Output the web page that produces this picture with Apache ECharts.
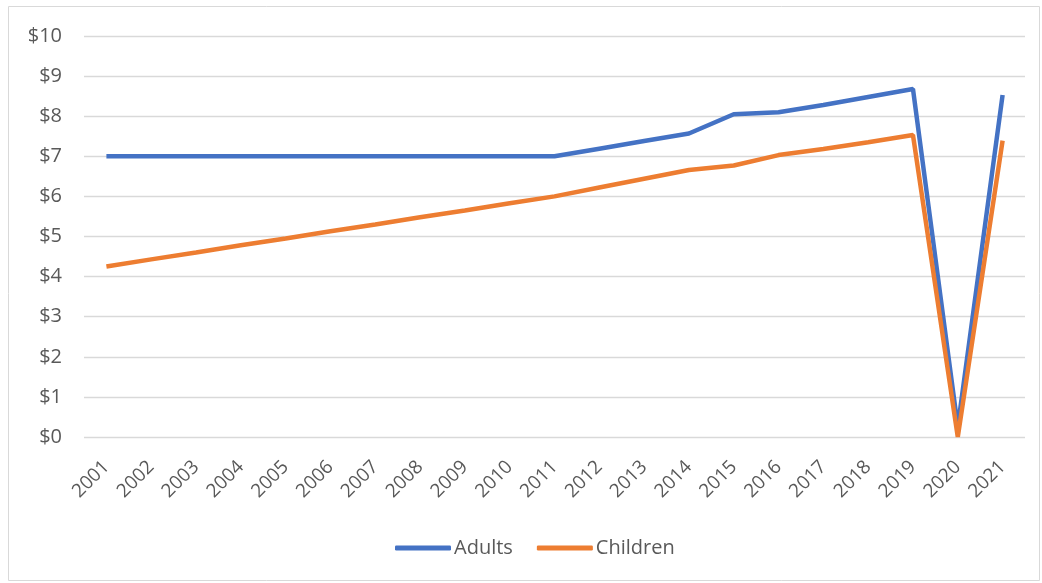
<!DOCTYPE html>
<html><head><meta charset="utf-8">
<script src="https://cdn.jsdelivr.net/npm/echarts@6/dist/echarts.min.js"></script>
<style>html,body{margin:0;padding:0;background:#fff}#c{width:1042px;height:583px}</style>
</head><body><div id="c"></div>
<script>
var years = ['2001','2002','2003','2004','2005','2006','2007','2008','2009','2010','2011','2012','2013','2014','2015','2016','2017','2018','2019','2020','2021'];
var adults = [7,7,7,7,7,7,7,7,7,7,7,7.19,7.38,7.57,8.05,8.10,8.28,8.48,8.68,0.25,8.53];
var children = [4.25,4.43,4.6,4.78,4.95,5.13,5.3,5.48,5.65,5.83,6.0,6.22,6.44,6.66,6.77,7.03,7.18,7.35,7.53,0,7.39];
var yTicks = {min:0, max:10, interval:1, prefix:'$'};

var chart = echarts.init(document.getElementById('c'));
var font = 'Open Sans, Noto Sans, sans-serif';
chart.setOption({
  animation:false,
  graphic:[{type:'rect', shape:{x:8.5,y:6.5,width:1031,height:574}, style:{fill:'none', stroke:'#d9d9d9', lineWidth:1}, z:-1}],
  grid:{left:84, right:17, top:36, bottom:146},
  legend:{
    bottom:20, left:390, itemGap:24, itemWidth:56, itemHeight:5, icon:'roundRect',
    textStyle:{fontFamily:font, fontSize:20, color:'#595959', padding:[0,0,0,-2]},
    data:['Adults','Children']
  },
  xAxis:{
    type:'category', data:years, boundaryGap:true,
    axisLine:{show:false}, axisTick:{show:false},
    axisLabel:{rotate:45, fontFamily:font, fontSize:19, color:'#595959', margin:27, interval:0}
  },
  yAxis:{
    type:'value', min:yTicks.min, max:yTicks.max, interval:yTicks.interval,
    axisLabel:{formatter:function(v){return yTicks.prefix+v;}, fontFamily:font, fontSize:20, color:'#595959', margin:22},
    splitLine:{lineStyle:{color:'#d9d9d9', width:1.3}}
  },
  series:[
    {name:'Adults', type:'line', data:adults, symbol:'none', lineStyle:{color:'#4472C4', width:4.5}, itemStyle:{color:'#4472C4'}},
    {name:'Children', type:'line', data:children, symbol:'none', lineStyle:{color:'#ED7D31', width:4.5}, itemStyle:{color:'#ED7D31'}}
  ]
});
</script></body></html>
